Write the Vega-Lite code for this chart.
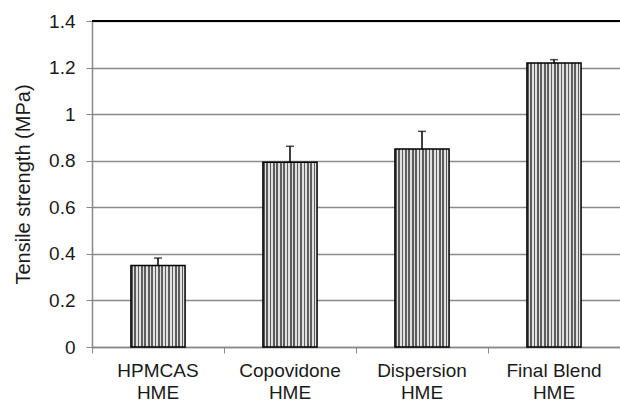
{
  "$schema": "https://vega.github.io/schema/vega-lite/v6.json",
  "width": 528,
  "height": 326,
  "autosize": "none",
  "padding": {"left": 92, "top": 21, "right": 0, "bottom": 54},
  "background": "white",
  "config": {
    "view": {"stroke": null},
    "font": "Liberation Sans",
    "axis": {"labelFont": "Liberation Sans", "titleFont": "Liberation Sans", "labelColor": "#1a1a1a", "titleColor": "#1a1a1a"}
  },
  "data": {
    "values": [
      {"group": "HPMCAS\nHME", "strength": 0.35, "upper": 0.382},
      {"group": "Copovidone\nHME", "strength": 0.793, "upper": 0.862},
      {"group": "Dispersion\nHME", "strength": 0.85, "upper": 0.926},
      {"group": "Final Blend\nHME", "strength": 1.22, "upper": 1.234}
    ]
  },
  "encoding": {
    "x": {
      "field": "group",
      "type": "nominal",
      "sort": null,
      "scale": {"paddingInner": 0, "paddingOuter": 0},
      "axis": {
        "title": null,
        "labelAngle": 0,
        "labelExpr": "split(datum.label, '\\n')",
        "labelFontSize": 19,
        "labelLineHeight": 22,
        "labelPadding": 8,
        "bandPosition": 0,
        "tickSize": 6,
        "tickColor": "#888888",
        "domainColor": "#888888",
        "domainWidth": 1.5,
        "grid": false
      }
    }
  },
  "layer": [
    {
      "mark": {"type": "rule", "color": "black", "strokeWidth": 1.5},
      "encoding": {"y": {"datum": 1.4, "type": "quantitative"}, "x": null}
    },
    {
      "mark": {
        "type": "bar",
        "width": {"band": 0.41},
        "stroke": "black",
        "strokeWidth": 1.5,
        "fill": {
          "gradient": "linear", "x1": 0, "x2": 1, "y1": 0, "y2": 0,
          "stops": [
            {"offset": 0, "color": "#5e5e5e"}, {"offset": 0.03125, "color": "#5e5e5e"},
            {"offset": 0.03125, "color": "#e0e0e0"}, {"offset": 0.0625, "color": "#e0e0e0"},
            {"offset": 0.0625, "color": "#5e5e5e"}, {"offset": 0.09375, "color": "#5e5e5e"},
            {"offset": 0.09375, "color": "#e0e0e0"}, {"offset": 0.125, "color": "#e0e0e0"},
            {"offset": 0.125, "color": "#5e5e5e"}, {"offset": 0.15625, "color": "#5e5e5e"},
            {"offset": 0.15625, "color": "#e0e0e0"}, {"offset": 0.1875, "color": "#e0e0e0"},
            {"offset": 0.1875, "color": "#5e5e5e"}, {"offset": 0.21875, "color": "#5e5e5e"},
            {"offset": 0.21875, "color": "#e0e0e0"}, {"offset": 0.25, "color": "#e0e0e0"},
            {"offset": 0.25, "color": "#5e5e5e"}, {"offset": 0.28125, "color": "#5e5e5e"},
            {"offset": 0.28125, "color": "#e0e0e0"}, {"offset": 0.3125, "color": "#e0e0e0"},
            {"offset": 0.3125, "color": "#5e5e5e"}, {"offset": 0.34375, "color": "#5e5e5e"},
            {"offset": 0.34375, "color": "#e0e0e0"}, {"offset": 0.375, "color": "#e0e0e0"},
            {"offset": 0.375, "color": "#5e5e5e"}, {"offset": 0.40625, "color": "#5e5e5e"},
            {"offset": 0.40625, "color": "#e0e0e0"}, {"offset": 0.4375, "color": "#e0e0e0"},
            {"offset": 0.4375, "color": "#5e5e5e"}, {"offset": 0.46875, "color": "#5e5e5e"},
            {"offset": 0.46875, "color": "#e0e0e0"}, {"offset": 0.5, "color": "#e0e0e0"},
            {"offset": 0.5, "color": "#5e5e5e"}, {"offset": 0.53125, "color": "#5e5e5e"},
            {"offset": 0.53125, "color": "#e0e0e0"}, {"offset": 0.5625, "color": "#e0e0e0"},
            {"offset": 0.5625, "color": "#5e5e5e"}, {"offset": 0.59375, "color": "#5e5e5e"},
            {"offset": 0.59375, "color": "#e0e0e0"}, {"offset": 0.625, "color": "#e0e0e0"},
            {"offset": 0.625, "color": "#5e5e5e"}, {"offset": 0.65625, "color": "#5e5e5e"},
            {"offset": 0.65625, "color": "#e0e0e0"}, {"offset": 0.6875, "color": "#e0e0e0"},
            {"offset": 0.6875, "color": "#5e5e5e"}, {"offset": 0.71875, "color": "#5e5e5e"},
            {"offset": 0.71875, "color": "#e0e0e0"}, {"offset": 0.75, "color": "#e0e0e0"},
            {"offset": 0.75, "color": "#5e5e5e"}, {"offset": 0.78125, "color": "#5e5e5e"},
            {"offset": 0.78125, "color": "#e0e0e0"}, {"offset": 0.8125, "color": "#e0e0e0"},
            {"offset": 0.8125, "color": "#5e5e5e"}, {"offset": 0.84375, "color": "#5e5e5e"},
            {"offset": 0.84375, "color": "#e0e0e0"}, {"offset": 0.875, "color": "#e0e0e0"},
            {"offset": 0.875, "color": "#5e5e5e"}, {"offset": 0.90625, "color": "#5e5e5e"},
            {"offset": 0.90625, "color": "#e0e0e0"}, {"offset": 0.9375, "color": "#e0e0e0"},
            {"offset": 0.9375, "color": "#5e5e5e"}, {"offset": 0.96875, "color": "#5e5e5e"},
            {"offset": 0.96875, "color": "#e0e0e0"}, {"offset": 1, "color": "#e0e0e0"}
          ]
        }
      },
      "encoding": {
        "y": {
          "field": "strength",
          "type": "quantitative",
          "scale": {"domain": [0, 1.4], "nice": false},
          "axis": {
            "title": "Tensile strength (MPa)",
            "titleFontSize": 20,
            "titleFontWeight": "normal",
            "titlePadding": 15,
            "values": [0, 0.2, 0.4, 0.6, 0.8, 1, 1.2, 1.4],
            "format": ".2~f",
            "labelFontSize": 19,
            "labelPadding": 11,
            "tickSize": 6,
            "tickColor": "#888888",
            "domainColor": "#888888",
            "domainWidth": 1.5,
            "grid": true,
            "gridColor": "#8a8a8a",
            "gridWidth": 1.3
          }
        }
      }
    },
    {
      "mark": {"type": "rule", "color": "black", "strokeWidth": 1.5},
      "encoding": {
        "y": {"field": "strength", "type": "quantitative"},
        "y2": {"field": "upper"}
      }
    },
    {
      "mark": {"type": "tick", "color": "black", "size": 8, "thickness": 1.5},
      "encoding": {
        "y": {"field": "upper", "type": "quantitative"}
      }
    }
  ]
}
